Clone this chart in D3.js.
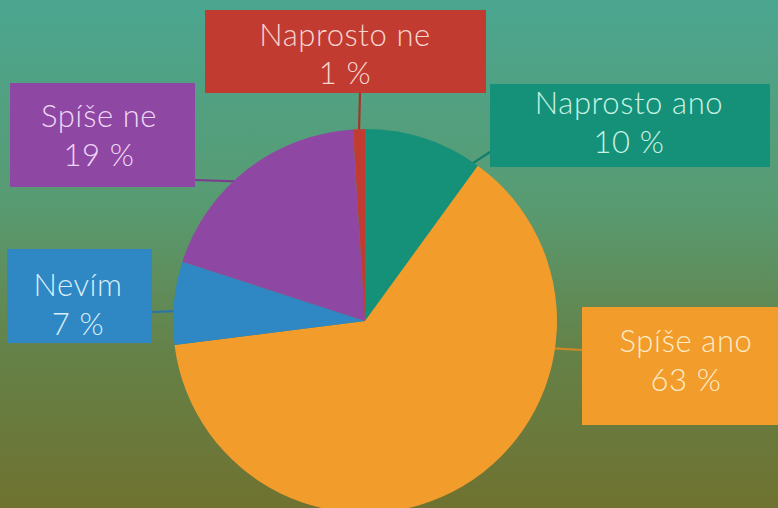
<!DOCTYPE html>
<html>
<head>
<meta charset="utf-8">
<script src="https://cdn.jsdelivr.net/npm/d3@7"></script>
<style>
html,body{margin:0;padding:0;overflow:hidden;}
svg{display:block;}
</style>
</head>
<body>
<svg id="chart" width="778" height="508"></svg>
<script>
// ---- data ----
const categories = ["Naprosto ano", "Spíše ano", "Nevím", "Spíše ne", "Naprosto ne"];
const values = [10, 63, 7, 19, 1];
const valueLabels = ["10 %", "63 %", "7 %", "19 %", "1 %"];
const colors = ["#15917a", "#f29c2b", "#2f87c3", "#8e48a3", "#c23b31"];
const textColors = ["#c9f1e2", "#fdebc6", "#d8eefa", "#f0d6f6", "#f8d6cf"];

// ---- layout (positions, not data) ----
const W = 778, H = 508;
const cx = 365, cy = 321, R = 192;
const boxes = [
  {x: 490, y: 84,  w: 280, h: 83,  tx: 629, b1: 114, b2: 153, rim: 34.2, ex: 490, ey: 152},
  {x: 582, y: 307, w: 210, h: 118, tx: 686, b1: 352, b2: 391, rim: 98.3, ex: 582, ey: 350},
  {x: 7,   y: 249, w: 145, h: 94,  tx: 78,  b1: 296, b2: 335, rim: 273,  ex: 152, ey: 312},
  {x: 10,  y: 83,  w: 185, h: 104, tx: 99,  b1: 127, b2: 166, rim: 317.3, ex: 195, ey: 180},
  {x: 205, y: 10,  w: 281, h: 83,  tx: 345, b1: 46,  b2: 84,  rim: null, ex: 360, ey: 93}
];

const svg = d3.select("#chart");
const defs = svg.append("defs");
const grad = defs.append("linearGradient").attr("id", "bg").attr("x1", 0).attr("y1", 0).attr("x2", 0).attr("y2", 1);
[[0, "#4ba690"], [0.4, "#589b72"], [0.7, "#658147"], [1, "#6f7230"]].forEach(s =>
  grad.append("stop").attr("offset", s[0]).attr("stop-color", s[1]));
svg.append("rect").attr("width", W).attr("height", H).attr("fill", "url(#bg)");

const pie = d3.pie().sort(null).value(d => d)(values);
const arc = d3.arc().innerRadius(0).outerRadius(R);

// leader lines (drawn under pie)
const lines = svg.append("g");
pie.forEach((p, i) => {
  const b = boxes[i];
  const ang = b.rim !== null ? b.rim * Math.PI / 180 : (p.startAngle + p.endAngle) / 2;
  const x0 = cx + Math.sin(ang) * (R - 2);
  const y0 = cy - Math.cos(ang) * (R - 2);
  lines.append("line")
    .attr("x1", x0).attr("y1", y0).attr("x2", b.ex).attr("y2", b.ey)
    .attr("stroke", d3.color(colors[i]).darker(0.4))
    .attr("stroke-width", 2.2);
});

const g = svg.append("g").attr("transform", `translate(${cx},${cy})`);
g.selectAll("path").data(pie).join("path")
  .attr("d", arc)
  .attr("fill", (d, i) => colors[i]);

// label boxes
const lab = svg.append("g");
boxes.forEach((b, i) => {
  lab.append("rect").attr("x", b.x).attr("y", b.y).attr("width", b.w).attr("height", b.h)
    .attr("fill", colors[i]);
  const t = lab.append("text")
    .attr("text-anchor", "middle")
    .attr("fill", textColors[i])
    .style("font-family", "Lato, 'Open Sans', sans-serif")
    .style("font-weight", 300)
    .style("font-size", "31px")
    .style("letter-spacing", "0.6px");
  t.append("tspan").attr("x", b.tx).attr("y", b.b1).text(categories[i]);
  t.append("tspan").attr("x", b.tx).attr("y", b.b2).text(valueLabels[i]);
});
</script>
</body>
</html>
